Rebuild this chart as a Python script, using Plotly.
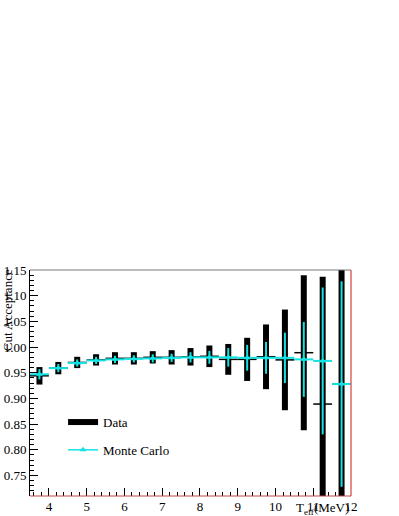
import plotly.graph_objects as go

# bin centres (MeV), 0.5 MeV bins
t_eff = [3.75, 4.25, 4.75, 5.25, 5.75, 6.25, 6.75, 7.25, 7.75, 8.25,
         8.75, 9.25, 9.75, 10.25, 10.75, 11.25, 11.75]
half_bin = [0.25] * len(t_eff)

# data acceptance + errors
data_acc = [0.944, 0.959, 0.970, 0.975, 0.978, 0.978, 0.980, 0.980, 0.981, 0.982,
            0.976, 0.976, 0.981, 0.975, 0.989, 0.889, 0.928]
data_err = [0.017, 0.012, 0.011, 0.011, 0.012, 0.012, 0.012, 0.014, 0.017, 0.021,
            0.030, 0.042, 0.063, 0.098, 0.151, 0.248, 0.26]

# monte carlo acceptance + errors
mc_acc = [0.947, 0.959, 0.969, 0.974, 0.976, 0.977, 0.978, 0.979, 0.980, 0.980,
          0.980, 0.979, 0.979, 0.979, 0.976, 0.973, 0.928]
mc_err = [0.010, 0.008, 0.007, 0.007, 0.007, 0.007, 0.008, 0.008, 0.010, 0.0125,
          0.018, 0.025, 0.031, 0.049, 0.073, 0.143, 0.200]

cyan = '#12e2e2'
serif = 'Liberation Serif, Times New Roman, serif'

fig = go.Figure()

#data - thick black vertical errors, thin bin-width line
fig.add_trace(go.Scatter(
    x=t_eff, y=data_acc, mode='markers', showlegend=False,
    marker=dict(size=1, color='black'),
    error_y=dict(type='data', array=data_err, color='black', thickness=6, width=0),
    error_x=dict(type='data', array=half_bin, color='black', thickness=1.5, width=0)))

#mc - cyan triangles with errors (no joining line)
fig.add_trace(go.Scatter(
    x=t_eff, y=mc_acc, mode='markers', showlegend=False,
    marker=dict(symbol='triangle-up', size=6, color=cyan),
    error_y=dict(type='data', array=mc_err, color=cyan, thickness=2, width=0),
    error_x=dict(type='data', array=half_bin, color=cyan, thickness=2, width=0)))

# legend entries
fig.add_trace(go.Scatter(x=[None], y=[None], mode='lines', name='Data',
                         line=dict(color='black', width=6), legend='legend'))
fig.add_trace(go.Scatter(x=[None], y=[None], mode='lines+markers', name='Monte Carlo',
                         line=dict(color=cyan, width=1.5),
                         marker=dict(symbol='triangle-up', size=6, color=cyan),
                         legend='legend2'))

# frame lines
fig.add_shape(type='line', xref='paper', yref='paper', x0=0, x1=1, y0=1, y1=1,
              line=dict(color='#777777', width=1))
fig.add_shape(type='line', xref='paper', yref='paper', x0=1, x1=1, y0=0, y1=1,
              line=dict(color='#d04040', width=1.2))
fig.add_shape(type='line', xref='paper', yref='paper', x0=0, x1=1, y0=0, y1=0,
              line=dict(color='#c04848', width=1.2))

fig.add_annotation(text='Cut Acceptance', xref='paper', yref='paper',
                   x=-0.07, y=1.01, xanchor='center', yanchor='top', textangle=-90,
                   showarrow=False, font=dict(family=serif, size=13, color='black'))
fig.add_annotation(text='T<sub>eff</sub>(MeV)', xref='paper', yref='paper',
                   x=1.0, y=-0.055, xanchor='right', yanchor='middle',
                   showarrow=False, font=dict(family=serif, size=13, color='black'))

fig.update_layout(
    width=399, height=516,
    margin=dict(l=30, r=48, t=270, b=20, autoexpand=False),
    paper_bgcolor='white', plot_bgcolor='white',
    font=dict(family=serif, size=13, color='black'),
    legend=dict(x=0.103, y=0.327, xanchor='left', yanchor='middle',
                bgcolor='rgba(0,0,0,0)', font=dict(family=serif, size=13)),
    legend2=dict(x=0.103, y=0.204, xanchor='left', yanchor='middle',
                 bgcolor='rgba(0,0,0,0)', font=dict(family=serif, size=13)),
)
fig.update_xaxes(range=[3.5, 12], showgrid=False, zeroline=False, automargin=False,
                 showline=False, ticks='inside', ticklen=8, tickcolor='black',
                 tick0=4, dtick=1, ticklabelstandoff=1,
                 minor=dict(ticks='inside', ticklen=4, dtick=0.2, tick0=4, tickcolor='black'))
fig.update_yaxes(range=[0.71, 1.15], showgrid=False, zeroline=False, automargin=False,
                 showline=True, linecolor='black', linewidth=1,
                 ticks='inside', ticklen=8, tickcolor='black',
                 tick0=0.75, dtick=0.05, tickformat='.2f', ticklabelstandoff=0,
                 minor=dict(ticks='inside', ticklen=4, dtick=0.01, tick0=0.75, tickcolor='black'))

# drop the default page margin so the figure sits at the window corner
fig.write_html("out.html", config={'displayModeBar': False},
               post_script="document.body.style.margin='0';")
